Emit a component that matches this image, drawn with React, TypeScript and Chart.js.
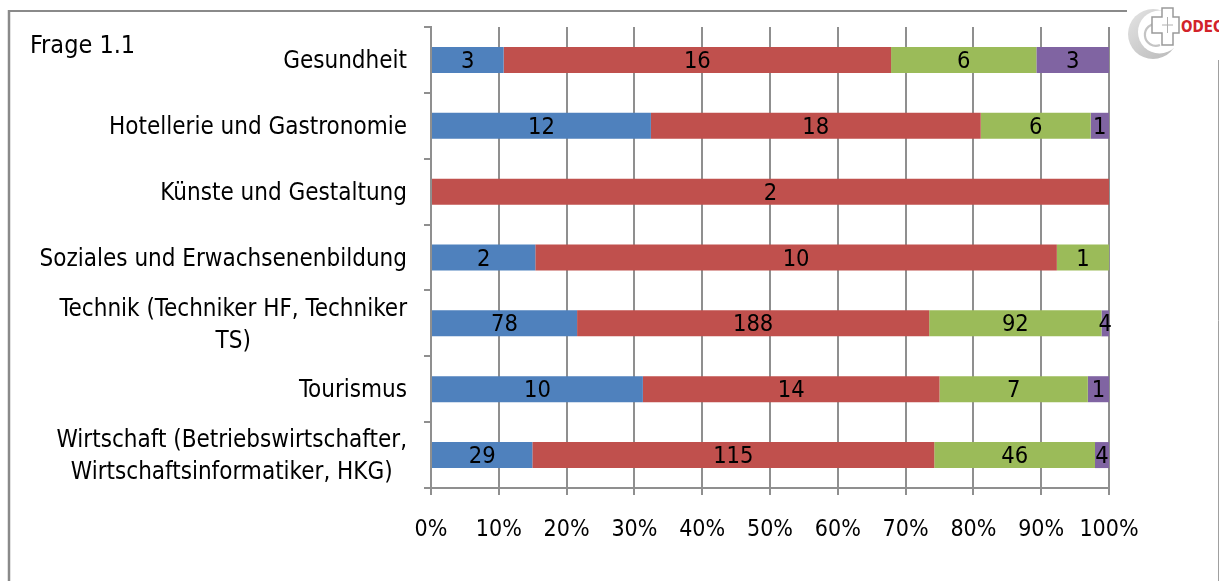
import React, { useEffect, useRef } from "react";
import { Chart, registerables } from "chart.js";

Chart.register(...registerables);

const categories: string[][] = [
  ["Gesundheit"],
  ["Hotellerie und Gastronomie"],
  ["Künste und Gestaltung"],
  ["Soziales und Erwachsenenbildung"],
  ["Technik (Techniker HF, Techniker", "TS)"],
  ["Tourismus"],
  ["Wirtschaft (Betriebswirtschafter,", "Wirtschaftsinformatiker, HKG)"],
];
const series1 = [3, 12, 0, 2, 78, 10, 29];
const series2 = [16, 18, 2, 10, 188, 14, 115];
const series3 = [6, 6, 0, 1, 92, 7, 46];
const series4 = [3, 1, 0, 0, 4, 1, 4];
const seriesNames = ["Serie 1", "Serie 2", "Serie 3", "Serie 4"];
const seriesColors = ["#4F81BD", "#C0504D", "#9BBB59", "#8064A2"];
const xTickValues = [0, 10, 20, 30, 40, 50, 60, 70, 80, 90, 100];
const title = "Frage 1.1";

const FONT = "'DejaVu Sans Condensed', 'DejaVu Sans', sans-serif";
const GRID = "#8f8f8f";

export default function App() {
  const ref = useRef<HTMLCanvasElement | null>(null);

  useEffect(() => {
    if (!ref.current) return;
    const counts = [series1, series2, series3, series4];
    const totals = categories.map((_, i) => counts.reduce((s, a) => s + a[i], 0));

    const framePlugin = {
      id: "frame",
      beforeDraw(chart: any) {
        const ctx = chart.ctx;
        ctx.save();
        ctx.strokeStyle = "#8a8a8a";
        ctx.lineWidth = 2;
        ctx.beginPath();
        ctx.moveTo(8, 11);
        ctx.lineTo(1127, 11);
        ctx.stroke();
        ctx.lineWidth = 2.5;
        ctx.beginPath();
        ctx.moveTo(9, 10);
        ctx.lineTo(9, 581);
        ctx.stroke();
        ctx.strokeStyle = "#a0a0a0";
        ctx.lineWidth = 1;
        ctx.beginPath();
        ctx.moveTo(1218.5, 60);
        ctx.lineTo(1218.5, 581);
        ctx.stroke();
        ctx.fillStyle = "#000";
        ctx.font = `25px ${FONT}`;
        ctx.textAlign = "left";
        ctx.textBaseline = "middle";
        ctx.fillText(title, 30, 46);
        ctx.restore();
      },
      afterDraw(chart: any) {
        const ctx = chart.ctx;
        const y = chart.scales.y;
        ctx.save();
        ctx.fillStyle = "#000";
        ctx.font = `24px ${FONT}`;
        ctx.textBaseline = "middle";
        ctx.textAlign = "center";
        const right = 407;
        const lh = 32;
        categories.forEach((lines, i) => {
          const cy = y.getPixelForValue(i) + 2;
          const w = Math.max(...lines.map((l) => ctx.measureText(l).width));
          const cx = right - w / 2;
          const start = cy - ((lines.length - 1) * lh) / 2;
          lines.forEach((l, k) => ctx.fillText(l, cx, start + k * lh));
        });
        // data labels
        ctx.font = `23.5px ${FONT}`;
        chart.data.datasets.forEach((ds: any, di: number) => {
          const meta = chart.getDatasetMeta(di);
          meta.data.forEach((el: any, i: number) => {
            const v = counts[di][i];
            if (!v) return;
            const cx = (el.x + el.base) / 2;
            ctx.fillText(String(v), cx, el.y + 2);
          });
        });
        ctx.restore();
      },
    };

    const chart = new Chart(ref.current, {
      type: "bar",
      data: {
        labels: categories.map((l) => l.join(" ")),
        datasets: counts.map((arr, di) => ({
          label: seriesNames[di],
          data: arr.map((v, i) => (v / totals[i]) * 100),
          backgroundColor: seriesColors[di],
          borderWidth: 0,
          categoryPercentage: 1,
          barPercentage: 0.395,
        })),
      },
      options: {
        indexAxis: "y",
        responsive: false,
        animation: false,
        layout: { padding: { top: 27, right: 110, left: 0, bottom: 0 } },
        plugins: { legend: { display: false }, tooltip: { enabled: false } },
        scales: {
          x: {
            type: "linear",
            stacked: true,
            min: 0,
            max: 100,
            afterBuildTicks: (s: any) => {
              s.ticks = xTickValues.map((v) => ({ value: v }));
            },
            ticks: {
              color: "#000",
              font: { family: FONT, size: 23 },
              padding: 21,
              maxRotation: 0,
              autoSkip: false,
              callback: (v: any) => v + "%",
            },
            grid: { color: GRID, lineWidth: 2, tickLength: 7, drawTicks: true },
            border: { color: GRID, width: 2 },
            afterFit: (s: any) => {
              s.height = 93;
            },
          },
          y: {
            stacked: true,
            ticks: { display: false },
            grid: {
              color: GRID,
              lineWidth: 2,
              tickLength: 7,
              drawOnChartArea: false,
              drawTicks: true,
            },
            border: { color: GRID, width: 2 },
            afterFit: (s: any) => {
              s.width = 431;
            },
          },
        },
      },
      plugins: [framePlugin],
    } as any);
    return () => chart.destroy();
  }, []);

  return (
    <div style={{ position: "absolute", left: 0, top: 0, width: 1219, height: 581, background: "#fff" }}>
      <canvas ref={ref} width={1219} height={581} style={{ width: 1219, height: 581, display: "block" }} />
      <svg
        width={97}
        height={60}
        style={{ position: "absolute", left: 1122, top: 0 }}
        viewBox="0 0 97 60"
      >
        <defs>
          <linearGradient id="cres" x1="0" y1="0" x2="1" y2="1">
            <stop offset="0" stopColor="#e4e4e4" />
            <stop offset="1" stopColor="#b8b8b8" />
          </linearGradient>
        </defs>
        <rect x={5} y={0} width={92} height={60} fill="#fff" />
        <circle cx={31} cy={34} r={25} fill="url(#cres)" />
        <circle cx={37.5} cy={32} r={21.5} fill="#fff" />
        <path d="M 36 24 A 11 11 0 1 0 38 45" fill="none" stroke="#c4c4c4" strokeWidth={2.2} />
        <path
          d="M 40 8 L 51 8 L 51 17 L 57 17 L 57 33 L 51 33 L 51 45 L 40 45 L 40 33 L 30 33 L 30 17 L 40 17 Z"
          fill="#fff"
          stroke="#9a9a9a"
          strokeWidth={1.5}
        />
        <line x1={40} y1={25} x2={51} y2={25} stroke="#b0b0b0" strokeWidth={1} />
        <line x1={45.5} y1={17} x2={45.5} y2={33} stroke="#b0b0b0" strokeWidth={1} />
        <text x={59} y={32} fill="#d2232a" fontFamily={FONT} fontWeight="bold" fontSize={15}>
          ODEC
        </text>
      </svg>
    </div>
  );
}
